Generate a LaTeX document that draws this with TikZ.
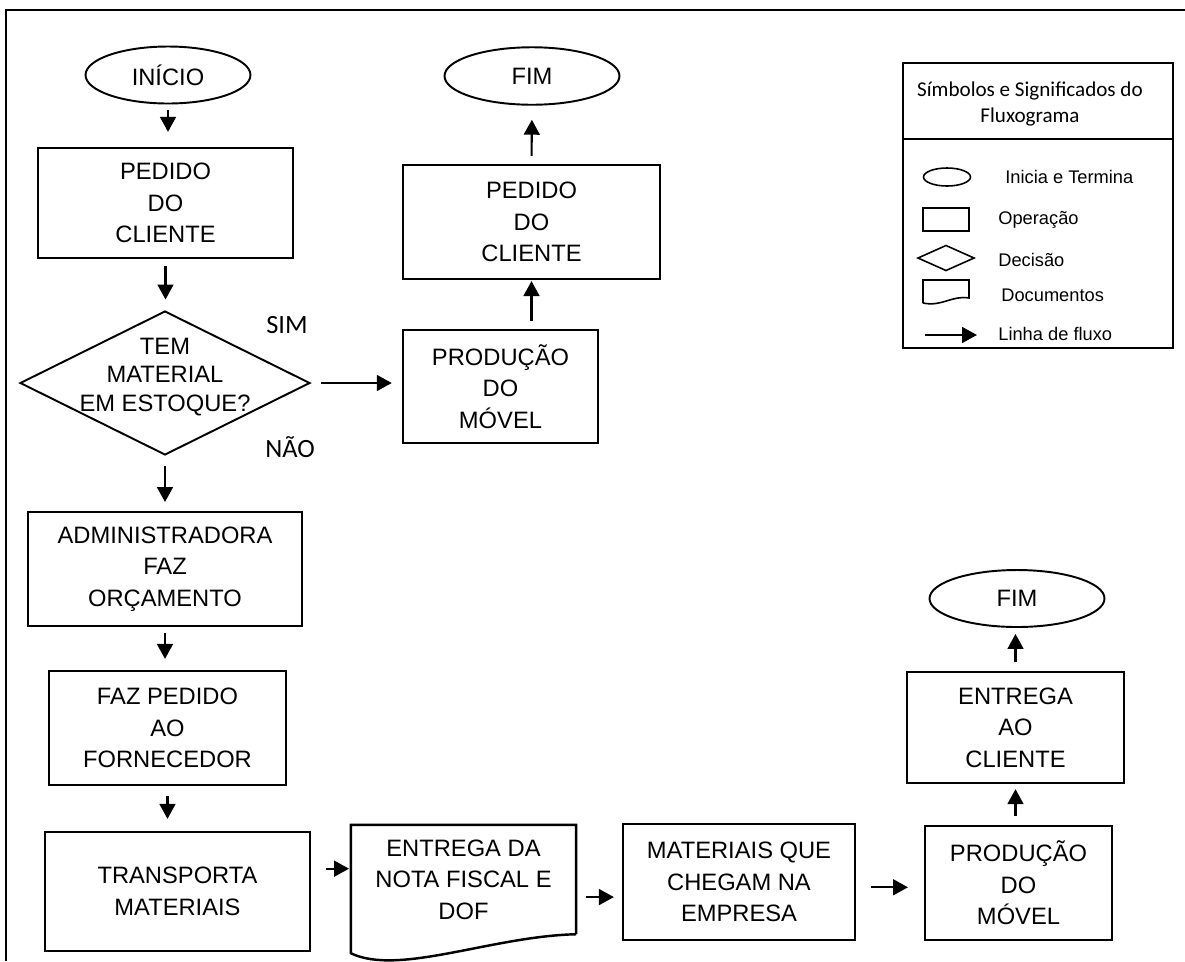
\documentclass[tikz,border=0pt]{standalone}
\usepackage{fontspec}
\setmainfont{Liberation Sans}
\newfontfamily\calfont{Carlito}
\usetikzlibrary{arrows.meta,calc,shapes.geometric}

\begin{document}
\begin{tikzpicture}[x=0.02cm,y=-0.02cm,
  font=\fontsize{13.5}{18}\selectfont,
  opbox/.style={draw,line width=1.4pt,align=center,inner sep=0pt},
  term/.style={draw,ellipse,line width=1.1pt,inner sep=0pt,
               minimum width=3.5cm,minimum height=1.15cm},
  flow/.style={line width=1.2pt,-{Triangle[length=8.5pt,width=9pt]}},
  ans/.style={font=\calfont\fontsize{15}{18}\selectfont},
  legtxt/.style={anchor=west,inner sep=0pt,font=\fontsize{10.4}{12}\selectfont}]
  \useasboundingbox (0,0) rectangle (1185,961);
  \draw[line width=1.6pt] (6,961) -- (6,10) -- (1185,10);

  % fluxo principal
  \node[term,minimum width=3.3cm,minimum height=1.14cm] (inicio) at (168,75) {INÍCIO};
  \node[opbox,minimum width=5.1cm,minimum height=2.2cm] (ped1) at (165.5,203) {PEDIDO\\DO\\CLIENTE};
  \node[draw,diamond,line width=1.1pt,inner sep=0pt,minimum width=5.8cm,minimum height=2.88cm] (dec) at (165,383) {};
  \node[align=center,inner sep=0pt,font=\fontsize{13.5}{16}\selectfont] (dectxt) at (165,377) {TEM\\MATERIAL\\EM ESTOQUE?};
  \node[ans] (sim) at (287,325) {SIM};
  \node[ans] (nao) at (290,447) {NÃO};
  \node[opbox,minimum width=3.9cm,minimum height=2.26cm] (prod1) at (500.5,386.5) {PRODUÇÃO\\DO\\MÓVEL};
  \node[opbox,minimum width=5.14cm,minimum height=2.28cm] (ped2) at (531.5,222) {PEDIDO\\DO\\CLIENTE};
  \node[term] (fim1) at (532,76) {FIM};
  \node[opbox,minimum width=5.48cm,minimum height=2.28cm] (adm) at (165,569) {ADMINISTRADORA\\FAZ\\ORÇAMENTO};
  \node[opbox,minimum width=4.74cm,minimum height=2.28cm] (forn) at (167.5,728) {FAZ PEDIDO\\AO\\FORNECEDOR};
  \node[opbox,minimum width=5.3cm,minimum height=2.38cm] (transp) at (177.5,891.5) {TRANSPORTA\\MATERIAIS};
  \node[opbox,draw=none,minimum width=4.46cm,minimum height=2.14cm] (doc) at (463.5,879.5) {ENTREGA DA\\NOTA FISCAL E\\DOF};
  \draw[line width=1.4pt] (doc.south east) -- (doc.north east) -- (doc.north west) -- ($(doc.south west)+(0,19)$)
    .. controls ($(doc.south west)+(48,42)$) and ($(doc.south east)+(-85,2)$) .. (doc.south east);
  \node[opbox,minimum width=4.64cm,minimum height=2.32cm] (mat) at (739,882) {MATERIAIS QUE\\CHEGAM NA\\EMPRESA};
  \node[opbox,minimum width=3.74cm,minimum height=2.28cm] (prod2) at (1018.5,883) {PRODUÇÃO\\DO\\MÓVEL};
  \node[opbox,minimum width=4.34cm,minimum height=2.22cm] (entr) at (1015.5,727.5) {ENTREGA\\AO\\CLIENTE};
  \node[term,minimum height=1.14cm] (fim2) at (1017,598.5) {FIM};

  \draw[flow,shorten <=3pt,shorten >=8.5pt] (inicio.south) -- (inicio.south |- ped1.north);
  \draw[flow,shorten <=4pt,shorten >=6pt] (ped1.south) -- (ped1.south |- dec.north);
  \draw[flow,shorten <=5.7pt,shorten >=5.7pt] (dec.east) -- (dec.east -| prod1.west);
  \draw[flow,shorten <=5.7pt,shorten >=5pt] (dec.south) -- (dec.south |- adm.north);
  \draw[flow,shorten <=3.4pt,shorten >=6.2pt] (adm.south) -- (adm.south |- forn.north);
  \draw[flow,shorten <=5.7pt,shorten >=6.8pt] (forn.south) -- (forn.south |- transp.north);
  \draw[flow,shorten <=8.5pt,shorten >=1pt] ([yshift=13pt]transp.east) -- ([yshift=13pt]transp.east -| doc.west);
  \draw[flow,shorten <=5.7pt,shorten >=4.5pt] ([yshift=-10pt]doc.east) -- ([yshift=-10pt]doc.east -| mat.west);
  \draw[flow,shorten <=8.5pt,shorten >=9pt] ([yshift=-3pt]mat.east) -- ([yshift=-3pt]mat.east -| prod2.west);
  \draw[flow,shorten <=5pt,shorten >=2.8pt] (entr.south |- prod2.north) -- (entr.south);
  \draw[flow,shorten <=5pt,shorten >=3.4pt] (entr.north) -- (entr.north |- fim2.south);
  \draw[flow,shorten <=4.5pt,shorten >=0.5pt] (ped2.south |- prod1.north) -- (ped2.south);
  \draw[flow,shorten <=4.5pt,shorten >=8pt] (ped2.north) -- (fim1.south);

  % legenda
  \draw[line width=1.3pt] (903,63) rectangle (1173,348);
  \draw[line width=1.3pt] (903,139) -- (1173,139);
  \node[align=center,font=\calfont\fontsize{12}{15.3}\selectfont] (legtit) at (1030,104) {Símbolos e Significados do\\Fluxograma};
  \draw[line width=0.9pt] (947,177) ellipse [x radius=0.47cm,y radius=0.18cm];
  \draw[line width=0.9pt] (923,208) rectangle (969,231);
  \draw[line width=0.9pt] (918,258) -- (946,245.5) -- (974,258) -- (946,270.5) -- cycle;
  \draw[line width=0.9pt] (923,303) -- (923,280) -- (969,280) -- (969,298)
    .. controls (952,295) and (942,307) .. (923,303);
  \draw[flow] (925,335) -- (977,335);
  \node[legtxt] (l1) at (1005,177) {Inicia e Termina};
  \node[legtxt] (l2) at (998,220) {Operação};
  \node[legtxt] (l3) at (998,260) {Decisão};
  \node[legtxt] (l4) at (1001,295) {Documentos};
  \node[legtxt] (l5) at (998,334) {Linha de fluxo};
\end{tikzpicture}
\end{document}
